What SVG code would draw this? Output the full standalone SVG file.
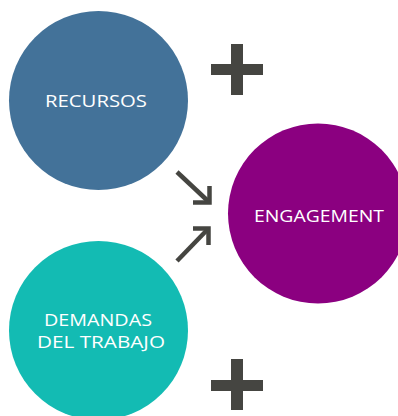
<svg xmlns="http://www.w3.org/2000/svg" width="398" height="416" viewBox="0 0 398 416">
  <defs>
    <style>
      .label { font-family: "Open Sans", "Noto Sans", "Liberation Sans", sans-serif; font-size: 17px; fill: #ffffff; text-anchor: middle; }
      .plus { fill: #454541; }
      .arrow { fill: none; stroke: #454541; stroke-width: 4.5; stroke-linecap: butt; stroke-linejoin: miter; }
    </style>
  </defs>
  <rect width="398" height="416" fill="#ffffff"/>

  <g id="recursos">
    <circle cx="98.5" cy="100.5" r="89.5" fill="#437299"/>
    <text class="label" x="96" y="106.5" textLength="102" lengthAdjust="spacingAndGlyphs">RECURSOS</text>
  </g>

  <g id="engagement">
    <circle cx="318" cy="213.5" r="90" fill="#8B0080"/>
    <text class="label" x="319" y="222" textLength="130" lengthAdjust="spacingAndGlyphs">ENGAGEMENT</text>
  </g>

  <g id="demandas">
    <circle cx="98.5" cy="330.5" r="89.5" fill="#13BBB3"/>
    <text class="label" x="98" y="326" textLength="108" lengthAdjust="spacingAndGlyphs">DEMANDAS</text>
    <text class="label" x="101" y="348" textLength="128" lengthAdjust="spacingAndGlyphs">DEL TRABAJO</text>
  </g>

  <g id="plus-top">
    <rect class="plus" x="231" y="44" width="12" height="51"/>
    <rect class="plus" x="211" y="64" width="52" height="11"/>
  </g>

  <g id="plus-bottom">
    <rect class="plus" x="231" y="359" width="12" height="51"/>
    <rect class="plus" x="211" y="380" width="52" height="11"/>
  </g>

  <g id="connectors">
    <path class="arrow" d="M177 172 L209 202"/>
    <path class="arrow" d="M193 202.5 L209.5 202.5 L209.5 186"/>
    <path class="arrow" d="M177 261 L208 229"/>
    <path class="arrow" d="M193 228.5 L208.5 228.5 L208.5 245"/>
  </g>
</svg>
